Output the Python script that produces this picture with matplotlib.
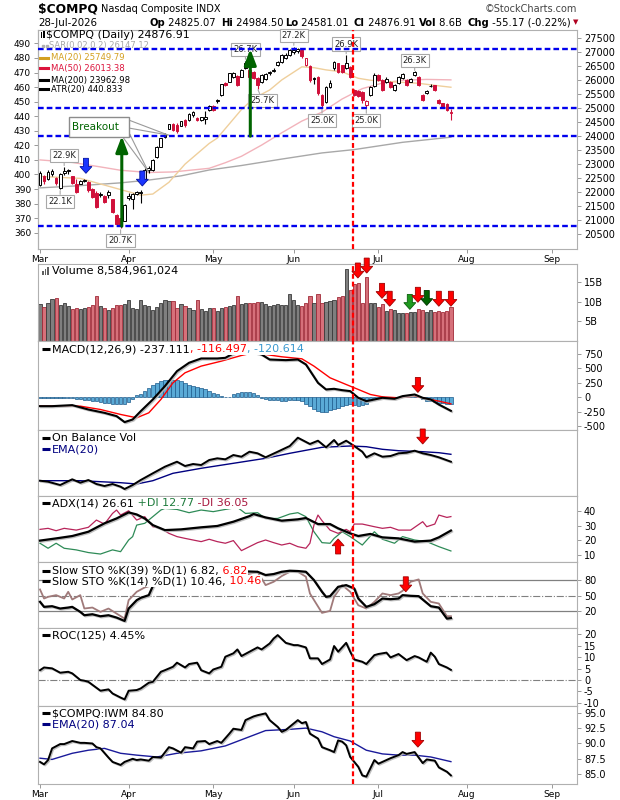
import matplotlib
matplotlib.use('Agg')
import matplotlib.pyplot as plt
import matplotlib.transforms as mtransforms
import matplotlib.patheffects as pe
from matplotlib.patches import Rectangle, Polygon
from matplotlib.lines import Line2D
from matplotlib.text import Annotation
from matplotlib.ticker import FormatStrFormatter

plt.rcParams['axes.unicode_minus'] = False

# ---------------- data ----------------
months = ['Mar', 'Apr', 'May', 'Jun', 'Jul', 'Aug', 'Sep']
month_start = [0, 22, 43, 63, 84, 106, 127]   # trading-day index of 1st of month

opens = [22250, 22560, 22450, 22640, 22500, 22150, 22680, 22740, 22560, 22300,
         22300, 22400, 22370, 22100, 21980, 21880, 21860, 21880, 21740, 21180,
         21060, 20980, 21790, 21760, 21930, 21960, 22480, 22800, 22800, 23270,
         23630, 23980, 24260, 24430, 24400, 24380, 24570, 24580, 24760, 24650,
         24580, 24600, 24940, 25070, 25240, 25470, 25890, 25950, 26130, 26150,
         26130, 26600, 26370, 26300, 26070, 25950, 26040, 26250, 26330, 26540,
         26660, 26800, 26900, 27000, 27050, 27080, 26540, 26510, 26070, 26130,
         25470, 25230, 25770, 26420, 26600, 26540, 26430, 26480, 25650, 25620,
         25590, 25110, 25470, 25800, 26190, 26000, 25950, 25950, 25660, 25900,
         26070, 26000, 25950, 26200, 26120, 25470, 25560, 25780, 25820, 25290,
         25170, 25150, 24825.07]
highs = [22750, 22600, 22800, 22830, 22530, 22700, 22900, 22830, 22580, 22450,
         22440, 22470, 22400, 22150, 22030, 21990, 21900, 22080, 21760, 21200,
         21080, 21560, 21950, 21960, 22050, 22060, 22850, 22920, 23200, 23650,
         23950, 24120, 24440, 24460, 24480, 24560, 24600, 24830, 24900, 24700,
         24690, 24900, 25100, 25100, 25320, 25880, 25950, 26270, 26300, 26180,
         26400, 26700, 26400, 26320, 26100, 26220, 26260, 26330, 26420, 26700,
         26950, 26960, 27120, 27200, 27150, 27100, 26800, 26530, 26100, 26150,
         25500, 25800, 26000, 26700, 26620, 26560, 26900, 26500, 25700, 25650,
         25620, 25300, 25800, 26250, 26230, 26030, 26100, 25980, 25850, 26150,
         26260, 26030, 26080, 26320, 26150, 25500, 25660, 25850, 25840, 25320,
         25200, 25180, 24984.50]
lows = [22200, 22300, 22420, 22560, 22250, 22100, 22620, 22650, 22280, 21950,
        22280, 22350, 22020, 21780, 21420, 21830, 21600, 21800, 21250, 20820,
        20700, 20950, 21700, 21400, 21880, 21600, 22450, 22700, 22750, 23230,
        23600, 23940, 24240, 24180, 24100, 24350, 24330, 24550, 24700, 24550,
        24530, 24450, 24900, 24900, 25200, 25450, 25780, 25920, 26080, 25800,
        26100, 26400, 26100, 26050, 25700, 25900, 26000, 26200, 26300, 26500,
        26620, 26760, 26870, 26950, 26980, 26800, 26500, 25950, 25880, 25480,
        25000, 25200, 25720, 26380, 26250, 26250, 26400, 26080, 25420, 25400,
        25200, 25000, 25420, 25770, 25980, 25620, 25900, 25740, 25620, 25880,
        26050, 25800, 25920, 26150, 25800, 25270, 25500, 25760, 25600, 25160,
        25000, 24900, 24581.01]
closes = [22690, 22380, 22730, 22760, 22310, 22660, 22770, 22790, 22320, 22010,
          22380, 22420, 22070, 21830, 21480, 21940, 21660, 22010, 21300, 20870,
          20800, 21540, 21860, 21920, 22010, 22020, 22800, 22860, 23160, 23620,
          23930, 24070, 24420, 24230, 24180, 24540, 24400, 24800, 24870, 24590,
          24670, 24680, 25070, 24940, 25290, 25850, 25830, 26250, 26270, 25830,
          26370, 26430, 26130, 26080, 25830, 26190, 26240, 26300, 26380, 26660,
          26900, 26920, 27080, 27090, 27100, 26850, 26780, 26010, 26030, 25530,
          25110, 25770, 25890, 26640, 26310, 26300, 26600, 26130, 25480, 25450,
          25290, 25270, 25770, 26190, 26010, 25660, 26060, 25770, 25830, 26120,
          26240, 25830, 26060, 26300, 25830, 25300, 25620, 25810, 25650, 25180,
          25060, 24932.08, 24876.91]
volume = [9.4, 8.5, 9.7, 10.7, 11.0, 9.2, 9.7, 8.8, 8.2, 8.3,
          8.2, 8.3, 8.5, 9.2, 11.5, 8.9, 8.4, 7.8, 8.4, 9.0,
          9.0, 9.3, 10.5, 8.3, 8.0, 10.3, 9.1, 8.8, 7.9, 8.5,
          9.6, 10.4, 10.2, 10.2, 8.4, 9.4, 8.8, 8.4, 7.9, 10.4,
          8.0, 7.6, 8.3, 8.3, 7.5, 8.4, 8.5, 8.9, 9.1, 11.5,
          9.4, 9.5, 9.5, 9.5, 10.0, 9.8, 9.4, 8.8, 9.2, 9.4,
          9.2, 9.1, 11.8, 10.3, 9.2, 8.9, 9.5, 11.4, 9.6, 11.8,
          9.6, 9.9, 10.1, 10.3, 11.1, 11.3, 18.2, 12.8, 14.5, 14.8,
          9.7, 16.3, 9.7, 9.7, 8.5, 9.4, 7.7, 8.2, 7.9, 7.1,
          7.1, 7.1, 7.3, 7.3, 8.2, 7.9, 7.3, 7.9, 7.3, 7.7,
          7.3, 7.7, 8.58]

ma20_day = [0, 10, 18, 22, 25, 28, 32, 36, 42, 44, 50, 53, 57, 60, 65, 68, 71, 75, 79, 82, 87, 94, 99, 102]
ma20 = [22560, 22490, 22170, 22010, 21890, 21930, 22350, 23000, 23740, 23930, 24950, 25350,
        25650, 26010, 26480, 26450, 26370, 26300, 26070, 26000, 25950, 25890, 25800, 25750]
ma50_day = [0, 8, 15, 20, 27, 33, 42, 46, 50, 55, 60, 65, 70, 75, 80, 85, 90, 96, 102]
ma50 = [23150, 23060, 22900, 22780, 22700, 22720, 22850, 23050, 23280, 23680, 24120, 24540,
        24860, 25330, 25700, 25900, 26000, 26030, 26013]
ma200_day = [0, 10, 20, 27, 35, 42, 50, 60, 70, 78, 90, 102]
ma200 = [22150, 22230, 22330, 22430, 22580, 22790, 22950, 23180, 23400, 23520, 23780, 23963]

support_levels = [27120, 25000, 24000, 20780]
signal_day = 77.6

macd_day = [0, 3, 8, 12, 16, 19, 21, 23, 25, 28, 31, 34, 37, 40, 44, 46, 48, 50, 52, 55, 57, 61,
            64, 66, 69, 71, 73, 75, 77, 79, 81, 83, 85, 88, 90, 93, 95, 97, 99, 102]
macd = [-156, -156, -138, -214, -272, -329, -433, -387, -243, -40, 191, 452, 597, 672, 672, 683,
        760, 810, 800, 741, 654, 643, 654, 568, 249, 134, 145, 122, 105, -11, -69, -40, -11, -28,
        18, 47, -11, -40, -127, -237]
sig_day = [0, 10, 15, 20, 24, 27, 30, 33, 36, 40, 45, 50, 53, 56, 60, 65, 68, 72, 76, 79, 82, 85,
           89, 93, 96, 99, 102]
macd_sig = [-156, -156, -214, -300, -358, -272, -40, 249, 423, 539, 625, 724, 770, 741, 701, 666,
            539, 336, 220, 134, 47, 6, -11, 18, -28, -69, -116]
macd_hist = [-15, -15, -12, -10, -8, -10, -12, -10, -15, -25,
             -40, -50, -55, -60, -70, -80, -95, -105, -115, -125,
             -127, -120, -90, -30, 30, 60, 110, 160, 210, 250,
             275, 290, 298, 300, 295, 275, 240, 215, 195, 175,
             160, 140, 110, 80, 50, 25, 10, 0, 60, 75,
             85, 88, 85, 70, 45, -20, -40, -45, -50, -55,
             -60, -60, -55, -50, -55, -60, -110, -160, -200, -240,
             -265, -255, -230, -200, -180, -150, -130, -125, -135, -150,
             -140, -110, -70, -40, -15, 5, 10, 10, -5, 5,
             15, 20, 25, 20, 10, -40, -60, -70, -80, -95,
             -105, -115, -121]

obv_day = [0, 2, 5, 8, 10, 12, 14, 16, 18, 20, 21, 23, 25, 28, 31, 34, 36, 38, 40, 42, 44, 46, 48,
           50, 52, 54, 56, 59, 62, 64, 67, 69, 71, 73, 74, 76, 78, 80, 81, 83, 85, 87, 89, 91, 93,
           95, 97, 99, 102]
obv = [15.3, 14.3, 11, 16.7, 13.3, 16, 12, 10, 12, 9.3, 7, 11, 16, 22.7, 29.3, 34.3, 30, 32, 31,
       36, 37.7, 36.7, 41, 39.3, 44.3, 42.7, 38.7, 44.3, 50, 58.3, 52, 55.3, 48.7, 56, 51, 55.3,
       50, 44.3, 38.7, 42.7, 39.3, 40, 42.7, 43.3, 45.3, 42.7, 41, 38.7, 34.3]
obv_ema_day = [0, 10, 20, 24, 28, 33, 40, 48, 56, 62, 70, 77, 81, 85, 89, 95, 99, 102]
obv_ema = [15.3, 15.3, 13.3, 12, 15.3, 22.7, 27.7, 32.7, 37.7, 42.7, 48.7, 50, 49.3, 46.7, 45.3,
           44.3, 43.3, 41.7]

adx_day = [0, 4, 8, 12, 16, 19, 22, 24, 26, 28, 31, 35, 40, 44, 48, 52, 53, 56, 60, 64, 66, 69,
           72, 74, 77, 79, 82, 85, 89, 93, 97, 99, 102]
adx = [19.8, 21.3, 22.9, 25.8, 31.5, 34.8, 38.9, 37.5, 34.8, 30.3, 26.9, 27.4, 28.8, 29.7, 32.6,
       36.4, 37.8, 35.5, 33.3, 34.2, 35.1, 31, 31, 28.1, 24.7, 22.9, 24.3, 22, 21.3, 19.1, 19.8,
       22, 26.61]
pdi_day = [0, 2, 4, 6, 9, 12, 15, 18, 20, 22, 23, 24, 26, 28, 30, 31, 34, 37, 40, 43, 46, 49, 51,
           54, 56, 59, 62, 64, 66, 68, 70, 72, 73, 75, 77, 80, 83, 85, 88, 90, 93, 96, 99, 102]
pdi = [18, 14.6, 18, 14.6, 13.5, 11.7, 10.7, 13.5, 12.3, 20.2, 22.5, 30.3, 31.5, 36, 40.5, 41.6,
       40.9, 38.7, 40.5, 39.4, 40.9, 42.3, 38.2, 38.7, 34.8, 34.8, 37.8, 38.7, 36, 25.8, 18.4, 18,
       21.3, 25.8, 22.5, 16.8, 25.8, 20.7, 18, 22.5, 20.2, 19.1, 15.7, 12.77]
mdi_day = [0, 2, 4, 6, 9, 12, 14, 16, 18, 19, 20, 22, 24, 26, 28, 30, 32, 34, 36, 38, 40, 42, 44,
           46, 48, 50, 52, 54, 56, 58, 60, 62, 64, 66, 67, 68, 69, 70, 72, 74, 76, 77, 78, 80, 83,
           85, 87, 89, 92, 95, 96, 98, 99, 101, 102]
mdi = [27.4, 28.1, 26.5, 28.1, 26.9, 28.8, 33.7, 31, 38.2, 40.5, 37.1, 40, 33.7, 36, 29.2, 28.1,
       24.7, 22.5, 21.3, 20.2, 19.1, 20.7, 19.1, 18, 19.8, 13, 15.7, 18.4, 20.2, 18.4, 16.8, 18,
       15.7, 14.6, 18, 30.3, 37.1, 33.3, 26.9, 24.7, 27.4, 25.8, 31, 31, 29.2, 28.1, 28.8, 26.9,
       26.9, 32.6, 29.2, 31, 37.1, 35.5, 36.05]

sto39_day = [0, 1, 3, 5, 7, 8, 10, 11, 13, 15, 17, 19, 21, 22, 24, 25, 27, 28, 30, 32, 35, 40, 45,
             50, 54, 56, 58, 60, 62, 64, 66, 68, 70, 71, 72, 74, 76, 78, 79, 81, 83, 85, 87, 89,
             90, 92, 94, 96, 97, 99, 101, 102]
sto39 = [38.1, 28.4, 29.7, 25.2, 27.1, 28.4, 18.7, 12.3, 14.2, 10.3, 12.3, 7.8, 1.3, 25.2, 41.3,
         45.8, 51, 68.4, 85, 93, 96, 97, 98, 97, 96, 89.7, 91.6, 96, 98, 97.4, 96, 80, 57.4, 47.7,
         49, 67, 70.3, 63.9, 44.5, 28.4, 33.6, 44.5, 43.2, 44.5, 51, 49.7, 49, 36.1, 29.7, 27.1,
         5.8, 6.82]
sto14_day = [0, 1, 2, 4, 6, 7, 8, 10, 11, 13, 15, 17, 19, 21, 22, 24, 26, 28, 30, 32, 34, 37, 40,
             43, 46, 49, 52, 54, 56, 58, 60, 62, 64, 66, 67, 70, 72, 73, 75, 77, 79, 81, 83, 85,
             87, 89, 90, 92, 94, 95, 97, 99, 101, 102]
sto14 = [61.9, 44.5, 47.7, 51, 44.5, 57.4, 42.6, 51, 25.2, 27.1, 18.7, 25.2, 15.5, 5.8, 41.3,
         57.4, 65.8, 70.3, 88, 92, 86, 95, 88, 92, 96, 86, 92, 96, 70.3, 76.7, 87.7, 96, 96, 86.4,
         54.2, 16.8, 20.7, 47.7, 70.3, 57.4, 31.6, 25.2, 38.1, 54.2, 51, 54.2, 59.3, 76.7, 81.3,
         54.2, 38.1, 34.9, 10.4, 10.46]

roc_day = [0, 1, 3, 5, 7, 8, 10, 11, 12, 15, 17, 18, 20, 21, 22, 24, 25, 27, 28, 30, 31, 33, 34,
           36, 37, 39, 40, 42, 43, 45, 46, 48, 49, 50, 52, 54, 55, 57, 58, 59, 61, 63, 64, 66, 67,
           69, 70, 72, 73, 74, 76, 77, 78, 80, 81, 83, 84, 86, 87, 89, 91, 93, 94, 96, 97, 98, 99,
           101, 102]
roc = [4.3, 5.5, 5.1, 3.2, 3.6, 2.9, 0, -0.3, -0.8, -4.7, -4.1, -5.9, -7.7, -8.5, -4.7, -4.4,
       -3.7, -1.2, -0.8, 3.6, 4.3, 5.8, 7.6, 5.5, 7, 7.6, 4.3, 2.9, 4.6, 5.8, 10.2, 11.7, 13.4,
       10.5, 12.4, 14.3, 13.4, 16, 18.2, 19.7, 16.3, 15.3, 15.3, 14.3, 9.5, 9.5, 7, 9, 14.9, 12.4,
       16.3, 12.4, 9, 8, 7, 10.9, 11.4, 12, 9.9, 11.4, 8.7, 10.5, 9.9, 8, 12, 10.2, 7, 5.5, 4.45]

ratio_day = [0, 1, 2, 3, 5, 6, 8, 10, 11, 13, 14, 15, 17, 18, 20, 21, 23, 24, 25, 27, 28, 30, 32,
             33, 35, 36, 38, 39, 41, 42, 44, 45, 47, 48, 50, 51, 53, 54, 56, 57, 59, 60, 61, 64,
             65, 66, 67, 69, 70, 72, 73, 74, 75, 76, 77, 79, 80, 81, 83, 84, 86, 87, 89, 90, 91,
             93, 95, 96, 98, 99, 101, 102]
ratio = [87, 86.6, 87.3, 89.2, 89.9, 89.9, 90.4, 90.1, 90.1, 90, 89.4, 89.2, 87.7, 87, 86.5, 87,
         87.5, 87.3, 87.4, 87.2, 87.8, 87.7, 89.4, 89.2, 88.5, 89.4, 89.2, 90.3, 90.4, 89.9, 90.4,
         90.1, 91.6, 92.4, 92.2, 93.8, 94.4, 94.6, 94.9, 93.8, 92.7, 91.9, 92.2, 93.8, 93.3, 93.5,
         91.6, 90.8, 89.4, 88.9, 88.6, 90.5, 90.3, 89.7, 87.8, 86.2, 84.8, 84.6, 87.3, 86.7, 87.3,
         87.6, 88.1, 88.6, 88.3, 88.6, 86.8, 87.4, 87.2, 86.1, 85.4, 84.8]
ratio_ema_day = [0, 3, 8, 12, 16, 20, 24, 29, 34, 40, 46, 52, 56, 62, 66, 70, 73, 77, 81, 85, 89,
                 93, 97, 102]
ratio_ema = [87.6, 87.4, 88.4, 88.9, 89.2, 88.4, 88.1, 87.8, 88.4, 88.8, 89.6, 91.1, 92.1, 92.3,
             92.5, 91.9, 91.1, 90.4, 88.9, 88.3, 88.1, 88.1, 87.8, 87.04]

# price call-outs: (text, day, price, above)
price_labels = [('22.9K', 6, 22900, True), ('22.1K', 5, 22100, False), ('20.7K', 20, 20700, False),
                ('26.7K', 51, 26700, True), ('25.7K', 54, 25700, False), ('27.2K', 63, 27200, True),
                ('26.9K', 76, 26900, True), ('25.0K', 70, 25000, False), ('25.0K', 81, 25000, False),
                ('26.3K', 93, 26300, True)]

# ---------------- figure ----------------
W, H = 620, 800
fig = plt.figure(figsize=(W / 100, H / 100), dpi=100)
fig.patch.set_facecolor('white')
PX = mtransforms.Affine2D().scale(1 / W, -1 / H).translate(0, 1) + fig.transFigure
X0, X1 = 38, 577
XLIM = (-0.5, 133.3)
BORDER = '#b0b0b0'
RED_C = '#d0103a'
shadow = [pe.SimpleLineShadow(offset=(0.8, -0.8), shadow_color='#b8b8b8', alpha=0.9), pe.Normal()]


def panel(top, bottom, ylim):
    ax = fig.add_axes([X0 / W, 1 - bottom / H, (X1 - X0) / W, (bottom - top) / H])
    ax.set_xlim(*XLIM)
    ax.set_ylim(*ylim)
    for s in ax.spines.values():
        s.set_color(BORDER)
    ax.yaxis.tick_right()
    ax.tick_params(axis='y', labelsize=7, length=3, width=0.6, color='#888888', pad=2)
    ax.set_xticks(month_start)
    ax.tick_params(axis='x', length=3, width=0.6, color='#888888', labelbottom=False)
    ax.axvline(signal_day, color='#ff0000', lw=1.6, ls=(0, (2.2, 1.3)), zorder=6)
    return ax


def legend_row(y, parts, x=52, size=8, marker=None, box=True):
    if marker:
        fig.add_artist(Line2D([42, 50], [y, y], transform=PX, color=marker, lw=2.2,
                              solid_capstyle='butt'))
    bb = dict(fc='white', ec='none', pad=0.5) if box else None
    t = fig.text(x, y, parts[0][0], transform=PX, color=parts[0][1], fontsize=size,
                 va='center', ha='left', bbox=bb, zorder=10)
    for s, c in parts[1:]:
        a = Annotation(s, xy=(1, 0), xycoords=t, va='bottom', ha='left', color=c,
                       fontsize=size, bbox=bb, zorder=10)
        fig.add_artist(a)
        t = a
    return t


def block_arrow(ax, x, y, color, edge, up=False, w=12, h=15):
    hh, sw = h * 0.45, w * 0.42
    sgn = -1 if up else 1
    pts = [(0, 0), (-w / 2, sgn * hh), (-sw / 2, sgn * hh), (-sw / 2, sgn * h),
           (sw / 2, sgn * h), (sw / 2, sgn * hh), (w / 2, sgn * hh)]
    tr = (mtransforms.Affine2D().scale(0.01) + fig.dpi_scale_trans +
          mtransforms.ScaledTranslation(x, y, ax.transData))
    ax.add_patch(Polygon(pts, closed=True, transform=tr, fc=color, ec=edge, lw=0.6,
                         clip_on=False, zorder=8))


days = list(range(len(closes)))
up_day = [i == 0 or closes[i] >= closes[i - 1] for i in days]

# ---------------- header ----------------
fig.text(38, 9, '$COMPQ', transform=PX, fontsize=8.8, fontweight='bold', va='center')
fig.text(101, 9.5, 'Nasdaq Composite INDX', transform=PX, fontsize=7, va='center')
fig.text(577, 9, '\u00a9StockCharts.com', transform=PX, fontsize=7, va='center', ha='right',
         color='#444444')
fig.text(38, 22.5, '28-Jul-2026', transform=PX, fontsize=7.4, va='center')
for lab, val, xpos in [('Op', '24825.07', 149), ('Hi', '24984.50', 221), ('Lo', '24581.01', 285),
                       ('Cl', '24876.91', 354), ('Vol', '8.6B', 419), ('Chg', '-55.17 (-0.22%)', 467)]:
    t = fig.text(xpos, 22.5, lab, transform=PX, fontsize=7.2, fontweight='bold', va='center')
    fig.add_artist(Annotation(' ' + val, xy=(1, 0), xycoords=t, va='bottom', fontsize=7.2))
fig.text(578, 22.5, '\u25bc', transform=PX, fontsize=5, va='center', ha='right', color='#b00020')

# ---------------- price panel ----------------
ax_p = panel(30, 249, (19964, 27797))
ax_p.set_xticklabels(months)
ax_p.tick_params(axis='x', labelbottom=True, labelsize=6.5, pad=1)
ax_p.set_yticks(range(20500, 27501, 500))

ax_p.plot(ma200_day, ma200, color='#a8a8a8', lw=1.0, zorder=2)
ax_p.plot(ma50_day, ma50, color='#f2b3bb', lw=1.0, zorder=2)
ax_p.plot(ma20_day, ma20, color='#efcf9c', lw=1.0, zorder=2)

for i in days:
    col = 'black' if up_day[i] else RED_C
    ax_p.vlines(i, lows[i], highs[i], color=col, lw=0.8, zorder=3)
    b0, b1 = sorted((opens[i], closes[i]))
    if b1 - b0 < 14:
        b1 = b0 + 14
    ax_p.add_patch(Rectangle((i - 0.34, b0), 0.68, b1 - b0,
                             fc=col if closes[i] < opens[i] else 'white', ec=col, lw=0.7, zorder=3.5))

for text, d, price, above in price_labels:
    dx = 5 if text == '25.7K' else 0
    ax_p.annotate(text, xy=(d, price), xytext=(dx, 11 if above else -12), textcoords='offset pixels',
                  ha='center', va='center', fontsize=6, color='#222222', zorder=4,
                  bbox=dict(boxstyle='square,pad=0.25', fc='white', ec='#a8a8a8', lw=0.8),
                  arrowprops=dict(arrowstyle='-', color='#a8a8a8', lw=0.8, shrinkA=0, shrinkB=1))

for lvl in support_levels:
    ax_p.axhline(lvl, color='#0000ee', lw=1.7, ls=(0, (2.4, 1.3)), zorder=5)

# measured-move arrows
for xa, y0, y1 in [(20.3, 20780, 24000), (52.2, 24000, 27120)]:
    ax_p.annotate('', xy=(xa, y1), xytext=(xa, y0),
                  arrowprops=dict(arrowstyle='-|>,head_width=0.36,head_length=0.95',
                                  color='#006400', lw=2.2, shrinkA=0, shrinkB=0), zorder=7)

# breakout call-out
for (xa, ya), (xb, yb) in [((22.0, 24578), (31.8, 24040)), ((22.0, 24292), (31.8, 24040)),
                           ((20.5, 23975), (26.9, 22728)), ((22.0, 24149), (26.9, 22728))]:
    ax_p.plot([xa, xb], [ya, yb], color='#9a9a9a', lw=0.8, zorder=6)
ax_p.add_patch(Rectangle((7.1, 23975), 14.9, 710, fc='white', ec='#8c8c8c', lw=1.0, zorder=6.5))
ax_p.text(8.0, 24330, 'Breakout', color='#006400', fontsize=7.5, va='center', ha='left', zorder=7)

block_arrow(ax_p, 11.4, 22671, '#1a35ff', '#0010a0')
block_arrow(ax_p, 25.4, 22217, '#1a35ff', '#0010a0')

sec = ax_p.secondary_yaxis('left', functions=(lambda r: 0.019188 * r - 34.2,
                                              lambda l: (l + 34.2) / 0.019188))
sec.set_yticks(range(360, 491, 10))
sec.tick_params(labelsize=6.5, length=3, width=0.6, color='#888888', pad=2)
sec.spines['left'].set_color(BORDER)

# legend of the price panel
fig.add_artist(Rectangle((40.5, 32), 1.6, 6, transform=PX, fc='black', ec='none'))
fig.add_artist(Rectangle((43.2, 31), 1.6, 7, transform=PX, fc='black', ec='none'))
legend_row(35, [('$COMPQ (Daily) 24876.91', 'black')], x=46, size=7.9, box=False)
fig.add_artist(Line2D([43, 47], [45.7, 45.7], transform=PX, color='#b0b0b0', lw=0,
                      marker='s', markersize=1.6, markevery=1))
legend_row(45.7, [('SAR(0.02,0.2) 26147.12', '#a8a8a8')], x=49, size=6, box=False)
legend_row(57.7, [('MA(20) 25749.79', '#d4a020')], x=51, size=6.1, box=False)
fig.add_artist(Line2D([40, 48], [57.7, 57.7], transform=PX, color='#d4a020', lw=2.2))
legend_row(68.3, [('MA(50) 26013.38', '#dc143c')], x=51, size=6.1, box=False)
fig.add_artist(Line2D([40, 48], [68.3, 68.3], transform=PX, color='#dc143c', lw=2.2))
legend_row(80, [('MA(200) 23962.98', 'black')], x=51, size=6.1, box=False)
fig.add_artist(Line2D([40, 48], [80, 80], transform=PX, color='black', lw=2.2))
legend_row(89.3, [('ATR(20) 440.833', 'black')], x=51, size=6.1, box=False)
fig.add_artist(Line2D([40, 48], [89.3, 89.3], transform=PX, color='black', lw=2.2))

# ---------------- volume ----------------
ax_v = panel(264, 341, (0, 19.5))
ax_v.bar(days, volume, width=0.8,
         color=['#7f7f7f' if u else '#d6707a' for u in up_day],
         edgecolor=['#3a3a3a' if u else '#a02a38' for u in up_day], lw=0.6, zorder=2)
ax_v.set_yticks([5, 10, 15])
ax_v.set_yticklabels(['5B', '10B', '15B'])
for d, v, c, e in [(78.9, 15.95, '#ff0000', '#a00000'), (81.1, 17.2, '#ff0000', '#a00000'),
                   (84.9, 10.8, '#ff0000', '#a00000'), (86.8, 8.8, '#ff0000', '#a00000'),
                   (91.8, 8.0, '#1f9a1f', '#0b5e0b'), (93.8, 9.8, '#ff0000', '#a00000'),
                   (96.0, 9.0, '#006400', '#003300'), (99.0, 8.8, '#ff0000', '#a00000'),
                   (102.0, 8.8, '#ff0000', '#a00000')]:
    block_arrow(ax_v, d, v, c, e)
for bx, bh in [(42, 4), (44.6, 6), (47.2, 8)]:
    fig.add_artist(Rectangle((bx, 275 - bh), 1.8, bh, transform=PX, fc='#606060', ec='none'))
legend_row(270.7, [('Volume 8,584,961,024', 'black')])

# ---------------- MACD ----------------
ax_m = panel(341, 430, (-570, 975))
ax_m.bar(days, macd_hist, width=0.85, color='#5aaad6', edgecolor='#1d5b8c', lw=0.5, zorder=1)
ax_m.plot(sig_day, macd_sig, color='#ff0000', lw=1.0, zorder=3)
ax_m.plot(macd_day, macd, color='black', lw=1.5, zorder=4, path_effects=shadow)
ax_m.set_yticks([-500, -250, 0, 250, 500, 750])
block_arrow(ax_m, 93.8, 82, '#ff0000', '#a00000')
legend_row(349, [('MACD(12,26,9) -237.111', 'black'), (', -116.497', '#ff0000'),
                 (', -120.614', '#3a9ad0')], marker='black')

# ---------------- On Balance Volume ----------------
ax_o = panel(430, 496, (0, 66))
ax_o.plot(obv_ema_day, obv_ema, color='#000080', lw=1.0, zorder=3)
ax_o.plot(obv_day, obv, color='black', lw=1.4, zorder=4, path_effects=shadow)
ax_o.set_yticks([])
block_arrow(ax_o, 95, 52, '#ff0000', '#a00000')
legend_row(437.7, [('On Balance Vol', 'black')], marker='black')
legend_row(449, [('EMA(20)', '#000080')], marker='#000080')

# ---------------- ADX ----------------
ax_a = panel(496, 562, (5.3, 50))
ax_a.plot(pdi_day, pdi, color='#2e8b57', lw=0.9, zorder=3)
ax_a.plot(mdi_day, mdi, color='#b8245a', lw=0.9, zorder=3)
ax_a.plot(adx_day, adx, color='black', lw=1.6, zorder=4, path_effects=shadow)
ax_a.set_yticks([10, 20, 30, 40])
block_arrow(ax_a, 74, 20.9, '#ff0000', '#a00000', up=True)
legend_row(503, [('ADX(14) 26.61', 'black'), (' +DI 12.77', '#1e7b3c'), (' -DI 36.05', '#a8183f')],
           marker='black')

# ---------------- Slow stochastics ----------------
ax_s = panel(562, 628, (-12.3, 114.8))
for lvl in (20, 80):
    ax_s.axhline(lvl, color='#808080', lw=0.9, zorder=1)
ax_s.axhline(50, color='#808080', lw=0.8, ls='-.', zorder=1)
ax_s.plot(sto14_day, sto14, color='#a07a7a', lw=1.3, zorder=3)
ax_s.plot(sto39_day, sto39, color='black', lw=1.6, zorder=4, path_effects=shadow)
ax_s.set_yticks([20, 50, 80])
block_arrow(ax_s, 90.8, 57.4, '#ff0000', '#a00000')
legend_row(570.7, [('Slow STO %K(39) %D(1) 6.82,', 'black'), (' 6.82', '#ff0000')], marker='black')
legend_row(581, [('Slow STO %K(14) %D(1) 10.46,', 'black'), (' 10.46', '#ff0000')], marker='black')

# ---------------- ROC ----------------
ax_r = panel(628, 706, (-11.4, 22.8))
ax_r.axhline(0, color='#808080', lw=0.8, ls='-.', zorder=1)
ax_r.plot(roc_day, roc, color='black', lw=1.4, zorder=4, path_effects=shadow)
ax_r.set_yticks(range(-10, 21, 5))
legend_row(635, [('ROC(125) 4.45%', 'black')], marker='black')

# ---------------- $COMPQ:IWM ----------------
ax_q = panel(706, 784, (83.4, 96.1))
ax_q.plot(ratio_ema_day, ratio_ema, color='#1a1a9a', lw=1.0, zorder=3)
ax_q.plot(ratio_day, ratio, color='black', lw=1.4, zorder=4, path_effects=shadow)
ax_q.set_yticks([85, 87.5, 90, 92.5, 95])
ax_q.yaxis.set_major_formatter(FormatStrFormatter('%.1f'))
ax_q.set_xticklabels(months)
ax_q.tick_params(axis='x', labelbottom=True, labelsize=6.5, pad=1)
block_arrow(ax_q, 93.8, 89.4, '#ff0000', '#a00000')
legend_row(713.3, [('$COMPQ:IWM 84.80', 'black')], marker='black')
legend_row(724.3, [('EMA(20) 87.04', '#000080')], marker='#000080')

fig.savefig('out.png', dpi=100, facecolor='white')
